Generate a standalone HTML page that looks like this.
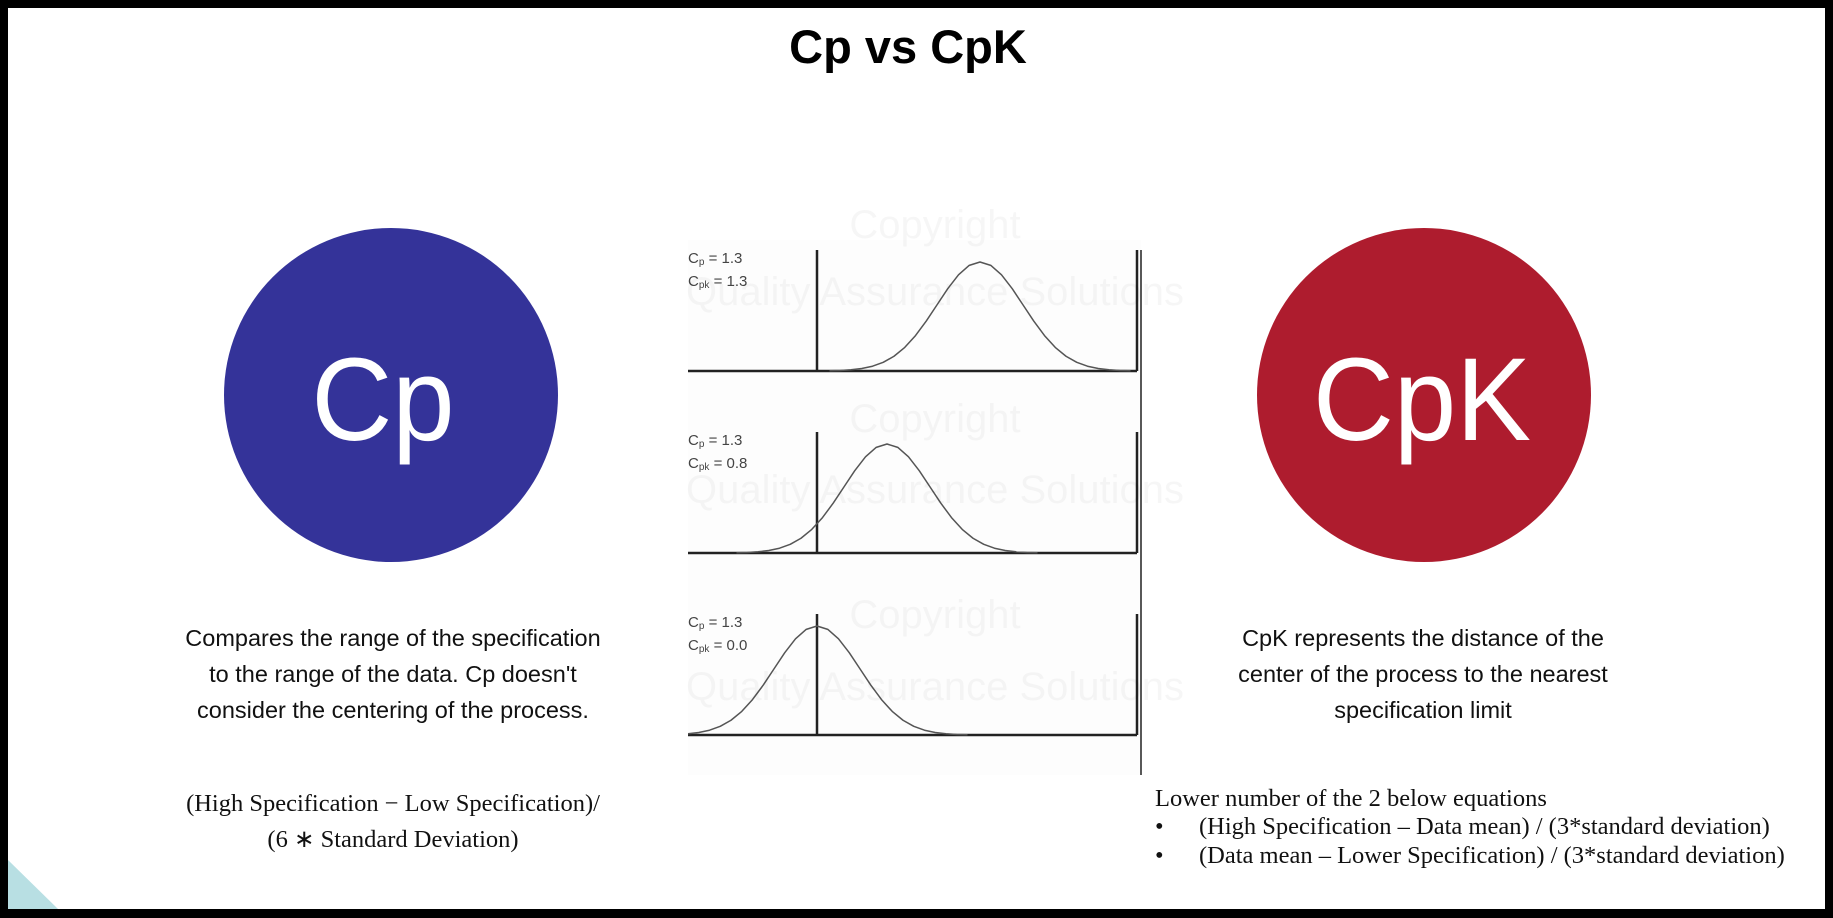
<!DOCTYPE html>
<html><head><meta charset="utf-8"><style>
html,body{margin:0;padding:0;background:#000;}
svg{display:block}
</style></head><body>
<svg width="1833" height="918" viewBox="0 0 1833 918" xmlns="http://www.w3.org/2000/svg">
<defs>
<path id="g" d="M-3.5,0.0022 L-3.25,0.0051 L-3,0.0111 L-2.75,0.0228 L-2.5,0.0439 L-2.25,0.0796 L-2,0.1353 L-1.75,0.2163 L-1.5,0.3247 L-1.25,0.4578 L-1,0.6065 L-0.75,0.7548 L-0.5,0.8825 L-0.25,0.9692 L0,1 L0.25,0.9692 L0.5,0.8825 L0.75,0.7548 L1,0.6065 L1.25,0.4578 L1.5,0.3247 L1.75,0.2163 L2,0.1353 L2.25,0.0796 L2.5,0.0439 L2.75,0.0228 L3,0.0111 L3.25,0.0051 L3.5,0.0022" fill="none" stroke="#555" stroke-width="1.5" vector-effect="non-scaling-stroke" stroke-linejoin="round"/>
<clipPath id="c"><rect x="688" y="240" width="450" height="520"/></clipPath>
</defs>
<rect x="8" y="8" width="1817" height="901" fill="#fff"/>
<polygon points="8,860 58,909 8,909" fill="#b8dfe3"/>
<text x="908" y="63" text-anchor="middle" font-family="Liberation Sans, sans-serif" font-weight="bold" font-size="47" fill="#000">Cp vs CpK</text>
<circle cx="391" cy="395" r="167" fill="#343399"/>
<circle cx="1424" cy="395" r="167" fill="#ae1c2e"/>
<text x="383" y="440" text-anchor="middle" font-family="Liberation Sans, sans-serif" font-size="118" fill="#fff" transform="translate(383,0) scale(0.95,1) translate(-383,0)">Cp</text>
<text x="1422" y="440" text-anchor="middle" font-family="Liberation Sans, sans-serif" font-size="118" fill="#fff" transform="translate(1422,0) scale(0.95,1) translate(-1422,0)">CpK</text>
<rect x="688" y="240" width="453" height="535" fill="#fdfdfd"/>
<g stroke="#222" stroke-width="2.5">
<line x1="688" y1="371" x2="1137" y2="371"/><line x1="817" y1="250" x2="817" y2="371"/><line x1="1137" y1="250" x2="1137" y2="371"/>
<line x1="688" y1="553" x2="1137" y2="553"/><line x1="817" y1="432" x2="817" y2="553"/><line x1="1137" y1="432" x2="1137" y2="553"/>
<line x1="688" y1="735" x2="1137" y2="735"/><line x1="817" y1="614" x2="817" y2="735"/><line x1="1137" y1="614" x2="1137" y2="735"/>
</g>
<line x1="1141" y1="250" x2="1141" y2="775" stroke="#222" stroke-width="1.5"/>
<g clip-path="url(#c)">
<use href="#g" transform="translate(980,371) scale(43,-109)"/>
<use href="#g" transform="translate(887,553) scale(43,-109)"/>
<use href="#g" transform="translate(817,735) scale(43,-109)"/>
</g>
<g font-family="Liberation Sans, sans-serif" font-size="15" fill="#444">
<text x="688" y="263">C<tspan font-size="10" dy="2">p</tspan><tspan dy="-2"> = 1.3</tspan></text>
<text x="688" y="286">C<tspan font-size="10" dy="2">pk</tspan><tspan dy="-2"> = 1.3</tspan></text>
<text x="688" y="445">C<tspan font-size="10" dy="2">p</tspan><tspan dy="-2"> = 1.3</tspan></text>
<text x="688" y="468">C<tspan font-size="10" dy="2">pk</tspan><tspan dy="-2"> = 0.8</tspan></text>
<text x="688" y="627">C<tspan font-size="10" dy="2">p</tspan><tspan dy="-2"> = 1.3</tspan></text>
<text x="688" y="650">C<tspan font-size="10" dy="2">pk</tspan><tspan dy="-2"> = 0.0</tspan></text>
</g>
<g font-family="Liberation Sans, sans-serif" font-size="40" fill="#000" fill-opacity="0.035" text-anchor="middle">
<text x="935" y="238">Copyright</text><text x="935" y="305">Quality Assurance Solutions</text>
<text x="935" y="432">Copyright</text><text x="935" y="503">Quality Assurance Solutions</text>
<text x="935" y="628">Copyright</text><text x="935" y="700">Quality Assurance Solutions</text>
</g>
<g font-family="Liberation Sans, sans-serif" font-size="23.5" fill="#111" text-anchor="middle">
<text x="393" y="646">Compares the range of the specification</text>
<text x="393" y="682">to the range of the data. Cp doesn't</text>
<text x="393" y="718">consider the centering of the process.</text>
<text x="1423" y="646">CpK represents the distance of the</text>
<text x="1423" y="682">center of the process to the nearest</text>
<text x="1423" y="718">specification limit</text>
</g>
<g font-family="Liberation Serif, serif" font-size="24.5" fill="#111">
<text x="393" y="811" text-anchor="middle">(High Specification  − Low Specification)/</text>
<text x="393" y="847" text-anchor="middle">(6 ∗ Standard Deviation)</text>
<text x="1155" y="806">Lower number of the 2 below equations</text>
<text x="1155" y="834">•</text><text x="1199" y="834">(High Specification – Data mean) / (3*standard deviation)</text>
<text x="1155" y="863">•</text><text x="1199" y="863">(Data mean – Lower Specification) / (3*standard deviation)</text>
</g>
</svg>
</body></html>
